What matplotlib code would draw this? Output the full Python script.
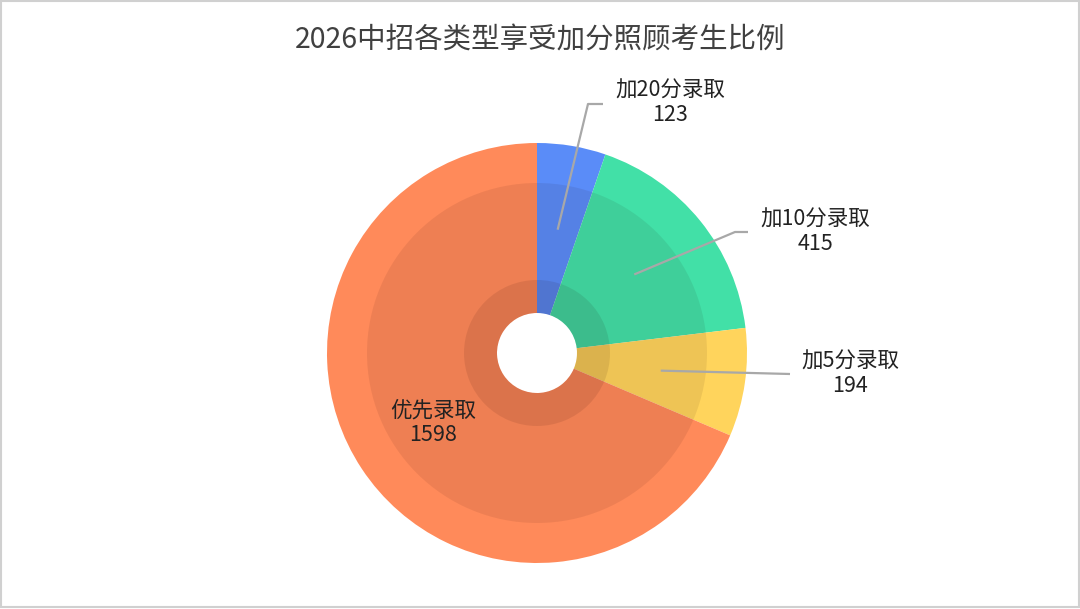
import numpy as np
import matplotlib
matplotlib.use("Agg")
import matplotlib.pyplot as plt
from matplotlib.patches import Wedge, Rectangle

plt.rcParams['font.family'] = ['Noto Sans CJK SC', 'DejaVu Sans']

# data
title = "2026中招各类型享受加分照顾考生比例"
labels = ["加20分录取", "加10分录取", "加5分录取", "优先录取"]
values = [123, 415, 194, 1598]
colors = ["#5A8CF8", "#42E0A7", "#FFD45C", "#FF8A5A"]

# label positions (pixels, top-left origin)
label_xy = [(670, 103), (815, 232), (850, 374), (433, 423)]
elbow_xy = [(588, 104), (735, 232), None, None]
line_end_x = [603, 748, 790, None]

W, H = 1080, 609
fig = plt.figure(figsize=(W / 100, H / 100), dpi=100)
ax = fig.add_axes([0, 0, 1, 1])

cx, cy = 537, H - 353
R, r_hole = 210, 40

ax.pie(values, colors=colors, startangle=90, counterclock=False,
       center=(cx, cy), radius=R, frame=True,
       wedgeprops=dict(width=R - r_hole, linewidth=0))
ax.set_xlim(0, W)
ax.set_ylim(0, H)
ax.set_aspect("equal")
ax.axis("off")

# darker inner bands
ax.add_patch(Wedge((cx, cy), 170, 0, 360, width=170 - r_hole,
                   facecolor="#200000", alpha=0.075, linewidth=0))
ax.add_patch(Wedge((cx, cy), 73, 0, 360, width=73 - r_hole,
                   facecolor="#200000", alpha=0.09, linewidth=0))

# leader lines + labels
total = sum(values)
cum = 0
for i, (lab, v) in enumerate(zip(labels, values)):
    mid = (cum + v / 2) / total * 2 * np.pi
    cum += v
    lx, ly = label_xy[i]
    ly = H - ly
    if line_end_x[i] is not None:
        ax_x = cx + 125 * np.sin(mid)
        ax_y = cy + 125 * np.cos(mid)
        if elbow_xy[i] is not None:
            ex, ey = elbow_xy[i]
            xs = [ax_x, ex, line_end_x[i]]
            ys = [ax_y, H - ey, H - ey]
        else:
            xs = [ax_x, line_end_x[i]]
            ys = [ax_y, ly]
        ax.plot(xs, ys, color="#A8A8A8", lw=1.6, solid_capstyle="butt")
    ax.text(lx, ly, f"{lab}\n{v}", ha="center", va="center",
            fontsize=15.5, color="#222222", linespacing=1.15)

fig.text(0.5, 1 - 40 / H, title, ha="center", va="center",
         fontsize=20.5, color="#404040")

fig.patches.append(Rectangle((0.001, 0.003), 0.998, 0.995, transform=fig.transFigure,
                             fill=False, edgecolor="#D0D0D0", linewidth=1.5))

fig.savefig("out.png", dpi=100, facecolor="white")
